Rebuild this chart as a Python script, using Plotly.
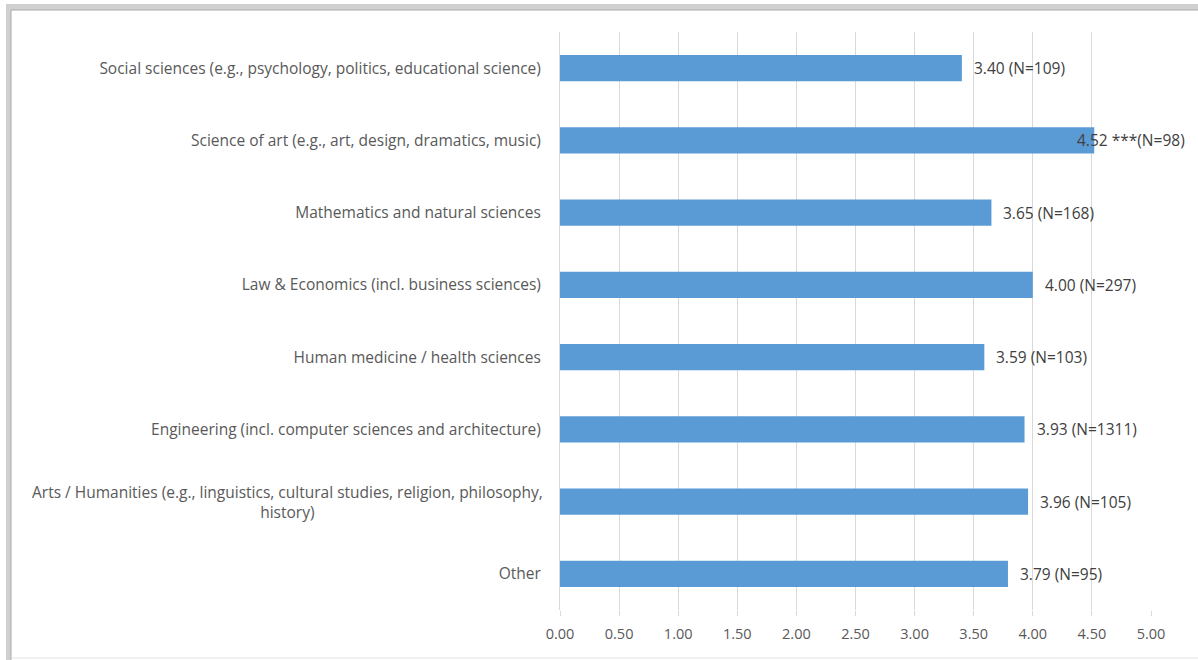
import plotly.graph_objects as go

categories = [
    "Social sciences (e.g., psychology, politics, educational science)",
    "Science of art (e.g., art, design, dramatics, music)",
    "Mathematics and natural sciences",
    "Law & Economics (incl. business sciences)",
    "Human medicine / health sciences",
    "Engineering (incl. computer sciences and architecture)",
    "Arts / Humanities (e.g., linguistics, cultural studies, religion, philosophy,<br>history)",
    "Other",
]
values = [3.40, 4.52, 3.65, 4.00, 3.59, 3.93, 3.96, 3.79]
n_counts = [109, 98, 168, 297, 103, 1311, 105, 95]
significance = ["", "***", "", "", "", "", "", ""]
x_ticks = [0, 0.5, 1, 1.5, 2, 2.5, 3, 3.5, 4, 4.5, 5]

W, H = 1198, 660
L, R, T, B = 560, 47, 32, 50
FONT = "Open Sans"
FS = 15.5
FS_TICK = 14.5

labels = []
for v, n, s in zip(values, n_counts, significance):
    labels.append(f"{v:.2f} {s}(N={n})" if s else f"{v:.2f} (N={n})")

fig = go.Figure()
fig.add_trace(go.Bar(
    y=categories, x=values, orientation="h",
    marker=dict(color="#5B9BD5", line=dict(width=0)),
    width=0.36, hoverinfo="skip",
))

ticktext = [c if "<br>" not in c else "" for c in categories]

annotations = []
for c, v, lab in zip(categories, values, labels):
    shift = -19 if v > 4.5 else 10
    annotations.append(dict(
        x=v, y=c, xref="x", yref="y", text=lab, showarrow=False,
        xanchor="left", yanchor="middle", xshift=shift,
        font=dict(family=FONT, size=FS, color="#404040"),
    ))
for c in categories:
    if "<br>" in c:
        annotations.append(dict(
            x=0, y=c, xref="paper", yref="y", text=c, showarrow=False,
            xanchor="right", yanchor="middle", xshift=-15, align="center",
            font=dict(family=FONT, size=FS, color="#595959"),
        ))

pw, ph = W - L - R, H - T - B
def px_x(p): return (p - L) / pw
def px_y(p): return (H - B - p) / ph

def band(x0, x1, y0, y1, color):
    return dict(type="rect", xref="paper", yref="paper",
                x0=px_x(x0), x1=px_x(x1), y0=px_y(y1), y1=px_y(y0),
                fillcolor=color, line=dict(width=0), layer="below")

shapes = [
    band(7, 1198, 4, 10, "#D0D0D0"),
    band(6, 11, 4, 660, "#D0D0D0"),
    band(11, 1198, 9.5, 10.5, "#A9A9A9"),
    band(10.5, 11.5, 10, 660, "#A9A9A9"),
    band(11, 1198, 657.5, 658.5, "#E4E4E4"),
]

fig.update_layout(
    width=W, height=H,
    margin=dict(l=L, r=R, t=T, b=B),
    paper_bgcolor="white", plot_bgcolor="white",
    showlegend=False,
    font=dict(family=FONT, size=FS, color="#595959"),
    annotations=annotations, shapes=shapes,
    xaxis=dict(
        range=[0, 5], tickvals=x_ticks, ticktext=[f"{t:.2f}" for t in x_ticks],
        showgrid=True, gridcolor="#D9D9D9", gridwidth=1,
        zeroline=False, showline=False,
        ticks="outside", ticklen=5, tickcolor="#D9D9D9",
        ticklabelstandoff=6,
        tickfont=dict(family=FONT, size=FS_TICK, color="#595959"),
        fixedrange=True,
    ),
    yaxis=dict(
        categoryorder="array", categoryarray=categories,
        autorange="reversed",
        tickvals=categories, ticktext=ticktext,
        showline=True, linecolor="#D9D9D9", linewidth=1,
        ticks="", ticklabelstandoff=15,
        tickfont=dict(family=FONT, size=FS, color="#595959"),
        showgrid=False, fixedrange=True,
    ),
)

fig.write_html(
    "out.html",
    config={"displayModeBar": False},
    post_script="document.body.style.margin='0';document.body.style.overflow='hidden';",
)
